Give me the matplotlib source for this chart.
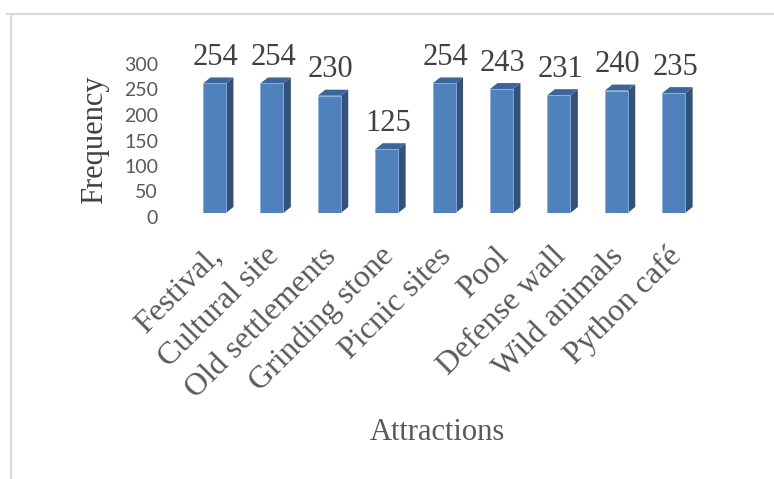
import matplotlib
matplotlib.use("Agg")
import matplotlib.pyplot as plt
from matplotlib.patches import Polygon
from matplotlib.lines import Line2D
from matplotlib.transforms import ScaledTranslation

categories = ["Festival,", "Cultural site", "Old settlements", "Grinding stone",
              "Picnic sites", "Pool", "Defense wall", "Wild animals", "Python café"]
values = [254, 254, 230, 125, 254, 243, 231, 240, 235]
yticks = [0, 50, 100, 150, 200, 250, 300]

W, H = 774, 479
fig = plt.figure(figsize=(W / 100, H / 100), dpi=100)
fig.patch.set_facecolor("white")

left_px, right_px = 185.8, 702.4
bottom_px, top_px = 213, 60
ax = fig.add_axes([left_px / W, 1 - bottom_px / H, (right_px - left_px) / W, (bottom_px - top_px) / H])
ax.set_xlim(-0.5, len(categories) - 0.5)
ax.set_ylim(0, 300)
for s in ax.spines.values():
    s.set_visible(False)

front = "#4F81BD"
side = "#32527C"
topc = "#3C659A"
bw = 0.4
dx = 0.13
dy = 11.8

xs = list(range(len(categories)))
ax.bar(xs, values, width=bw, color=front, edgecolor="#8DB0DA", linewidth=0.6, zorder=3)
for x, v in zip(xs, values):
    x0, x1 = x - bw / 2, x + bw / 2
    ax.add_patch(Polygon([(x1, 0), (x1 + dx, dy), (x1 + dx, v + dy), (x1, v)],
                         closed=True, facecolor=side, edgecolor="none", zorder=2))
    ax.add_patch(Polygon([(x0, v), (x1, v), (x1 + dx, v + dy), (x0 + dx, v + dy)],
                         closed=True, facecolor=topc, edgecolor="none", zorder=2))
    ax.annotate(str(v), xy=(x, v), xytext=(1, 13.3), textcoords="offset points",
                ha="center", va="baseline", fontsize=22, family="Liberation Serif",
                color="#404040", annotation_clip=False)

ax.set_yticks(yticks)
ax.set_yticklabels([str(t) for t in yticks], fontsize=14, family="Lato", color="#595959")
ax.tick_params(axis="y", length=0, pad=20)
for lab in ax.get_yticklabels():
    lab.set_transform(lab.get_transform() + ScaledTranslation(0, -4 / 100, fig.dpi_scale_trans))

ax.set_xticks(xs)
ax.set_xticklabels(categories, rotation=45, ha="right", va="center", rotation_mode="anchor",
                   fontsize=23, family="Liberation Serif", color="#595959")
ax.tick_params(axis="x", length=0, pad=28)
for lab in ax.get_xticklabels():
    lab.set_transform(lab.get_transform() + ScaledTranslation(3 / 100, 0, fig.dpi_scale_trans))

fig.text(95 / W, 1 - 140 / H, "Frequency", rotation=90, ha="center", va="center",
         fontsize=22, family="Liberation Serif", color="#404040")
fig.text(437 / W, 1 - 432 / H, "Attractions", ha="center", va="center",
         fontsize=22, family="Liberation Serif", color="#595959")

fig.add_artist(Line2D([7 / W, 1], [1 - 13.5 / H, 1 - 13.5 / H], color="#D9D9D9", linewidth=1.5))
fig.add_artist(Line2D([10.5 / W, 10.5 / W], [0, 1 - 13.5 / H], color="#D9D9D9", linewidth=1.5))

fig.savefig("out.png", dpi=100, facecolor="white")
